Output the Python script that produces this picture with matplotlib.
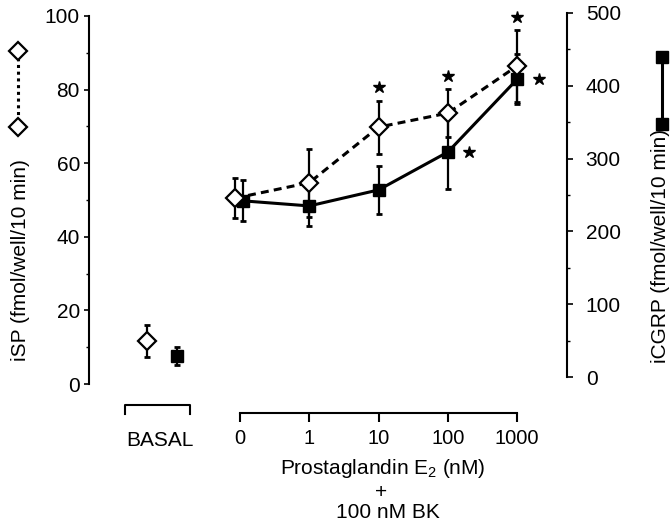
import matplotlib
matplotlib.use('Agg')
import matplotlib.pyplot as plt
import matplotlib.transforms as mtransforms
from matplotlib.lines import Line2D
import numpy as np

plt.rcParams['font.family'] = ['Liberation Sans', 'DejaVu Sans']
plt.rcParams['mathtext.fontset'] = 'custom'
plt.rcParams['mathtext.rm'] = 'Liberation Sans'
plt.rcParams['mathtext.it'] = 'Liberation Sans'

# ---------------- data ----------------
conc_labels = ['0', '1', '10', '100', '1000']
basal_label = 'BASAL'

sp_basal = 11.7
sp_basal_err = 4.3
sp_mean = [50.5, 54.7, 69.8, 73.6, 86.4]
sp_err = [5.4, 9.2, 7.2, 6.6, 9.8]
sp_sig = [False, False, True, True, True]

cgrp_basal = 29.0
cgrp_basal_err = 12.0
cgrp_mean = [242, 235, 257, 309, 409]
cgrp_err = [28, 27, 33, 51, 34]
cgrp_sig = [False, False, False, True, True]

# ---------------- layout ----------------
W, H = 672, 531
fig = plt.figure(figsize=(W / 100, H / 100), dpi=100)

def fx(px):
    return px / W

def fy(py):
    return 1 - py / H

ax = fig.add_axes([fx(89), fy(384), fx(567) - fx(89), fy(13) - fy(384)])
ax2 = ax.twinx()
ax.set_zorder(ax2.get_zorder() + 1)
ax.patch.set_visible(False)

xpos = np.arange(len(conc_labels), dtype=float)
sp_x = xpos.copy()
sp_x[0] -= 0.07
cg_x = xpos.copy()
cg_x[0] += 0.04
sp_basal_x = -1.34
cg_basal_x = -0.91

ax.set_xlim(-2.18, 4.72)
ax.set_ylim(0, 100.8)
ax2.set_ylim(-9.6, 500)

lw_spine = 1.5
for a in (ax, ax2):
    a.spines['top'].set_visible(False)
ax2.spines['bottom'].set_visible(False)
ax2.spines['left'].set_visible(False)
ax.spines['right'].set_visible(False)

ax.spines['left'].set_linewidth(lw_spine)
ax.spines['left'].set_bounds(0, 100)
ax2.spines['right'].set_linewidth(lw_spine)
ax2.spines['right'].set_bounds(0, 500)

# bottom axis (PGE2 concentrations)
ax.spines['bottom'].set_position(('outward', 21))
ax.spines['bottom'].set_bounds(0, 4)
ax.spines['bottom'].set_linewidth(lw_spine)
ax.set_xticks(xpos)
ax.set_xticklabels(conc_labels, fontsize=14.5)
ax.tick_params(axis='x', direction='out', length=6.5, width=1.5, pad=5)

# left axis ticks
ax.set_yticks(np.arange(0, 101, 20))
ax.set_yticks(np.arange(10, 100, 20), minor=True)
ax.tick_params(axis='y', which='major', direction='out', length=3.5, width=1.2,
               pad=3, labelsize=15)
ax.tick_params(axis='y', which='minor', direction='out', length=2, width=1.0)

# right axis ticks
ax2.set_yticks(np.arange(0, 501, 100))
ax2.set_yticks(np.arange(50, 500, 100), minor=True)
ax2.tick_params(axis='y', which='major', direction='out', length=4.5, width=1.2,
                pad=9, labelsize=15)
ax2.tick_params(axis='y', which='minor', direction='out', length=2.5, width=1.0)

# ---------------- iCGRP (filled squares, solid) ----------------
ax2.errorbar(cg_x, cgrp_mean, yerr=cgrp_err, fmt='none', ecolor='black',
             elinewidth=1.6, capsize=2.5, capthick=2, zorder=2)
ax2.plot(cg_x, cgrp_mean, '-', color='black', lw=2.2, marker='s', ms=8.5,
         mfc='black', mec='black', zorder=3)
ax2.errorbar([cg_basal_x], [cgrp_basal], yerr=[cgrp_basal_err], fmt='none',
             ecolor='black', elinewidth=1.6, capsize=2.5, capthick=2, zorder=2)
ax2.plot([cg_basal_x], [cgrp_basal], 's', ms=8.5, mfc='black', mec='black',
         zorder=3)

# ---------------- iSP (open diamonds, dashed) ----------------
ax.errorbar(sp_x, sp_mean, yerr=sp_err, fmt='none', ecolor='black',
            elinewidth=1.6, capsize=2.5, capthick=2, zorder=4)
ax.plot(sp_x, sp_mean, color='black', lw=2.2, linestyle=(0, (2.6, 1.7)),
        zorder=5)
ax.plot(sp_x, sp_mean, 'D', ms=8.8, mfc='white', mec='black', mew=1.6,
        zorder=6)
ax.errorbar([sp_basal_x], [sp_basal], yerr=[sp_basal_err], fmt='none',
            ecolor='black', elinewidth=1.6, capsize=2.5, capthick=2, zorder=4)
ax.plot([sp_basal_x], [sp_basal], 'D', ms=8.8, mfc='white', mec='black',
        mew=1.6, zorder=6)

# significance stars
for x, m, e, s in zip(sp_x, sp_mean, sp_err, sp_sig):
    if s:
        ax.plot([x], [m + e + 3.6], marker='*', ms=9, color='black',
                clip_on=False, zorder=7)
for x, m, s in zip(cg_x, cgrp_mean, cgrp_sig):
    if s:
        ax2.plot([x + 0.31], [m], marker='*', ms=9, color='black',
                 clip_on=False, zorder=7)

# BASAL bracket below the plot
btrans = mtransforms.blended_transform_factory(ax.transData, fig.transFigure)
ax.plot([-1.66, -1.66, -0.72, -0.72], [fy(414), fy(405), fy(405), fy(414)],
        color='black', lw=1.5, transform=btrans, clip_on=False)
fig.text(fx(160), fy(441), basal_label, ha='center', va='center', fontsize=15)

# x axis label
fig.text(fx(383), fy(468), 'Prostaglandin E$_2$ (nM)', ha='center',
         va='center', fontsize=15)
fig.text(fx(381), fy(492), '+', ha='center', va='center', fontsize=15)
fig.text(fx(388), fy(512), '100 nM BK', ha='center', va='center', fontsize=15)

# y axis labels
fig.text(fx(21), fy(260), 'iSP (fmol/well/10 min)', rotation=90, ha='center',
         va='center', fontsize=15)
fig.text(fx(661), fy(246), 'iCGRP (fmol/well/10 min)', rotation=90,
         ha='center', va='center', fontsize=15)

# legend keys next to the axis labels
fig.add_artist(Line2D([fx(18), fx(18)], [fy(51), fy(127)], color='black',
                      lw=2.2, linestyle=(0, (1.0, 1.2)),
                      transform=fig.transFigure))
fig.add_artist(Line2D([fx(18), fx(18)], [fy(51), fy(127)], linestyle='none',
                      marker='D', ms=8.8, mfc='white', mec='black', mew=1.6,
                      transform=fig.transFigure))
fig.add_artist(Line2D([fx(662), fx(662)], [fy(57), fy(124)], color='black',
                      lw=2.2, marker='s', ms=8.5, mfc='black', mec='black',
                      transform=fig.transFigure))

fig.savefig('out.png', dpi=100)
